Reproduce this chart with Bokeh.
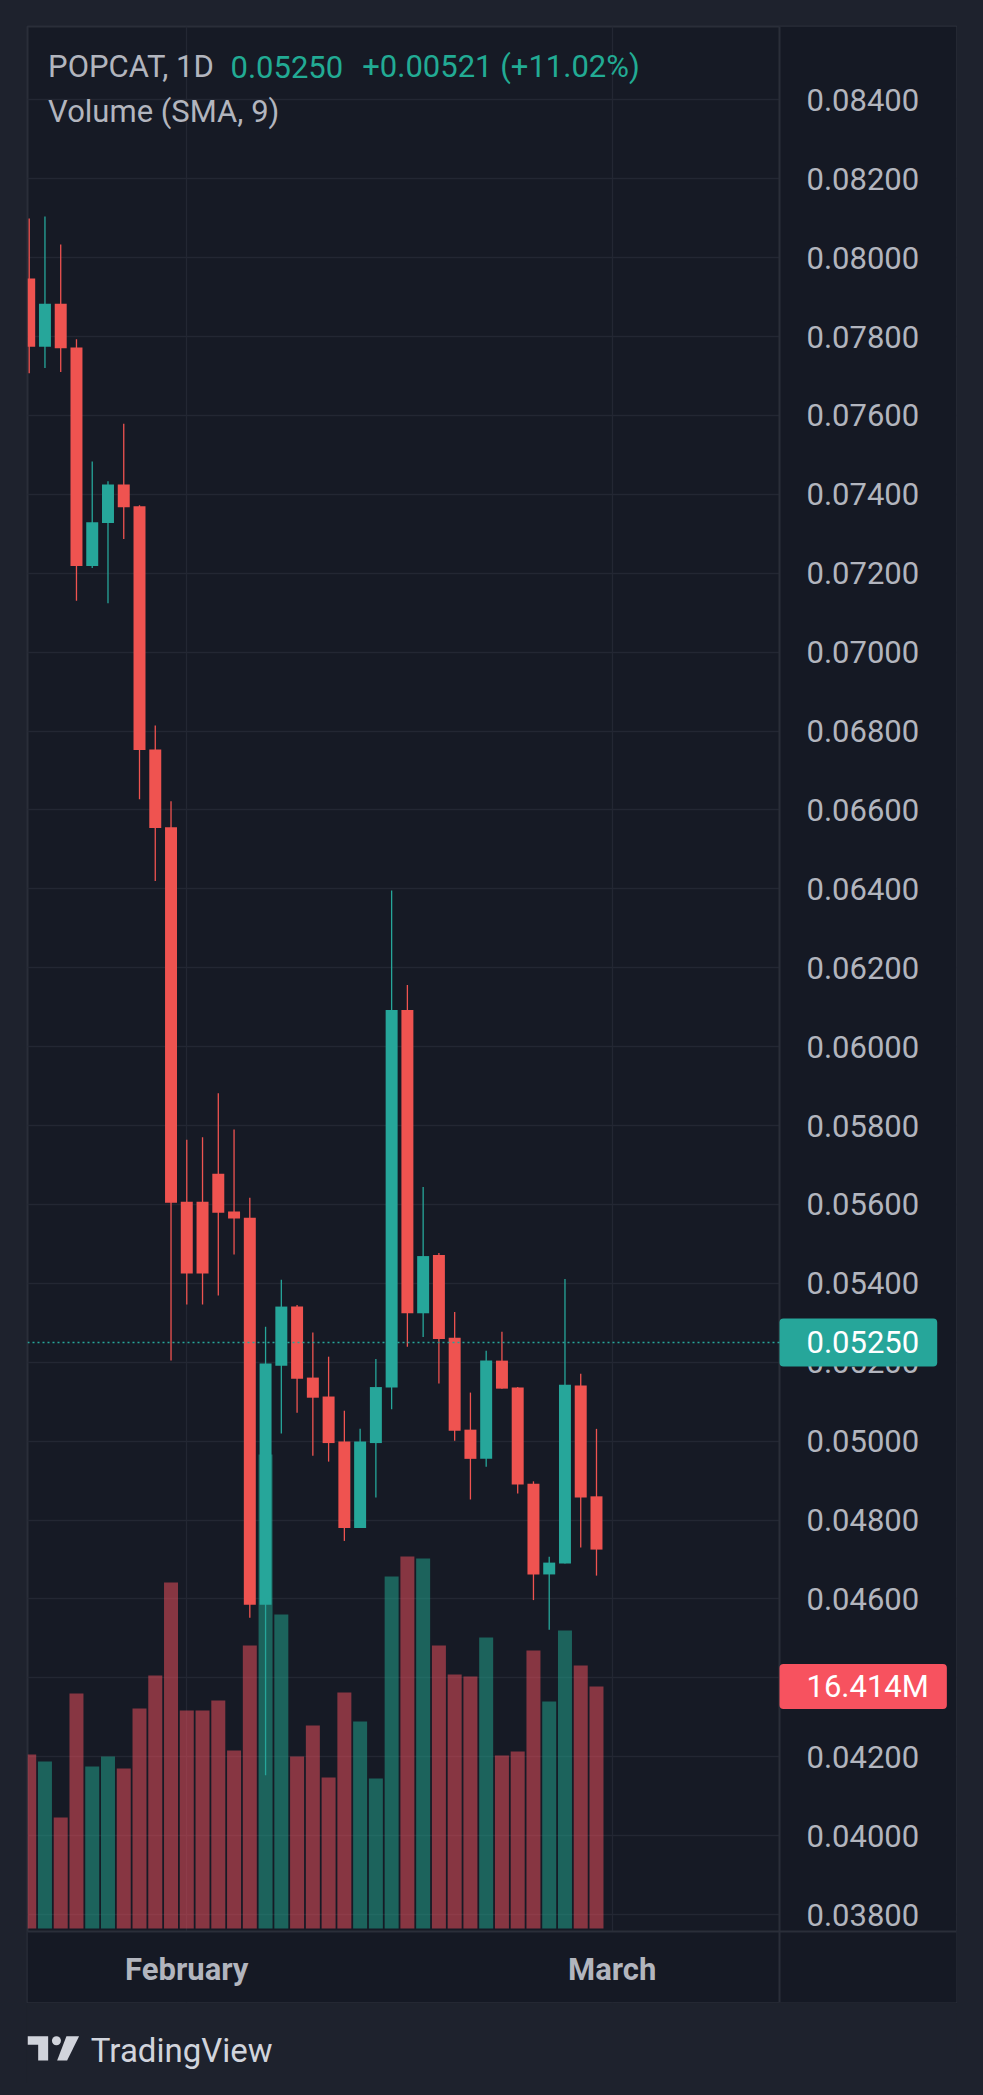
from bokeh.plotting import figure
from bokeh.models import (Range1d, FixedTicker, PrintfTickFormatter, Label, Span,
                          Arrow, BoxAnnotation, ColumnDataSource)
from bokeh.layouts import column
from bokeh.embed import file_html
from bokeh.resources import INLINE

# ---------------- data ----------------
DAYS = list(range(37))
OPEN = [0.07947, 0.07774, 0.07883, 0.07772, 0.07218, 0.07327, 0.07425, 0.07370, 0.06753, 0.06556,
        0.05607, 0.05607, 0.05678, 0.05582, 0.05566, 0.04585, 0.05191, 0.05341, 0.05161, 0.05113,
        0.04999, 0.04780, 0.04995, 0.05136, 0.06093, 0.05324, 0.05472, 0.05262, 0.05029, 0.04955,
        0.05204, 0.05136, 0.04892, 0.04662, 0.04690, 0.05141, 0.04860]
HIGH = [0.08099, 0.08104, 0.08033, 0.07793, 0.07483, 0.07433, 0.07579, 0.07372, 0.06814, 0.06622,
        0.05764, 0.05770, 0.05882, 0.05790, 0.05617, 0.05290, 0.05409, 0.05345, 0.05275, 0.05214,
        0.05077, 0.05031, 0.05208, 0.06396, 0.06156, 0.05644, 0.05477, 0.05327, 0.05123, 0.05229,
        0.05277, 0.05137, 0.04898, 0.04707, 0.05411, 0.05171, 0.05031]
LOW = [0.07707, 0.07720, 0.07710, 0.07130, 0.07213, 0.07124, 0.07287, 0.06627, 0.06420, 0.05204,
       0.05346, 0.05346, 0.05369, 0.05473, 0.04552, 0.04153, 0.05019, 0.05072, 0.04963, 0.04948,
       0.04747, 0.04780, 0.04857, 0.05081, 0.05239, 0.05264, 0.05146, 0.05001, 0.04852, 0.04935,
       0.05133, 0.04867, 0.04597, 0.04522, 0.04690, 0.04730, 0.04659]
CLOSE = [0.07774, 0.07883, 0.07770, 0.07218, 0.07329, 0.07425, 0.07367, 0.06752, 0.06554, 0.05604,
         0.05425, 0.05425, 0.05579, 0.05564, 0.04585, 0.05197, 0.05341, 0.05158, 0.05110, 0.04995,
         0.04780, 0.04999, 0.05137, 0.06093, 0.05324, 0.05469, 0.05259, 0.05026, 0.04955, 0.05204,
         0.05133, 0.04890, 0.04662, 0.04692, 0.05143, 0.04857, 0.04725]
VOLUME_M = [11.80, 11.33, 7.53, 15.94, 10.99, 11.67, 10.85, 14.92, 17.16, 23.47,
            14.79, 14.79, 15.47, 12.07, 19.20, 32.15, 21.30, 11.67, 13.77, 10.24,
            16.01, 14.04, 10.17, 23.88, 25.23, 25.10, 19.20, 17.23, 17.09, 19.74,
            11.73, 12.01, 18.86, 15.40, 20.21, 17.84, 16.414]
PRICE_TICKS = [0.038, 0.040, 0.042, 0.044, 0.046, 0.048, 0.050, 0.052, 0.054, 0.056, 0.058, 0.060,
               0.062, 0.064, 0.066, 0.068, 0.070, 0.072, 0.074, 0.076, 0.078, 0.080, 0.082, 0.084]
MONTH_TICKS = [10, 37]
MONTH_LABELS = ["February", "March"]
SYMBOL = "POPCAT, 1D"
LAST_PRICE = 0.05250
LAST_PRICE_TEXT = "0.05250"
CHANGE_TEXT = "+0.00521 (+11.02%)"
INDICATOR = "Volume (SMA, 9)"
LAST_VOLUME_TEXT = "16.414M"

# ---------------- styling / geometry ----------------
UP = "#26a69a"
DOWN = "#ef5350"
VOL_UP = "#22ab94"
VOL_DOWN = "#f7525f"
BG = "#161a25"
PANEL = "#151924"
OUTER = "#1e222d"
GRID = "#232733"
BORDER = "#2a2e39"
TEXT = "#b2b5be"
FONT = "Roboto"

BAR0_PX, BAR_STEP = 28.7, 15.758            # page px of first bar centre, px per bar
FRAME_L, FRAME_R, FRAME_T, FRAME_B = 27, 956, 26, 2002
SEP_X, SEP_Y = 779, 1931                     # price-axis / time-axis separators
PRICE_REF_PX, PX_PER_PRICE = 99.3, 39450.0   # page y of 0.084, px per price unit
VOL_BASE_PX, M_PER_PX = 1928.0, 0.06783


def x_of(px):
    return (px - BAR0_PX) / BAR_STEP


def price_of(py):
    return 0.084 - (py - PRICE_REF_PX) / PX_PER_PRICE


def vol_of(py):
    return (VOL_BASE_PX - py) * M_PER_PX


up = [c >= o for o, c in zip(OPEN, CLOSE)]
src = ColumnDataSource(dict(
    x=DAYS, open=OPEN, high=HIGH, low=LOW, close=CLOSE, vol=VOLUME_M,
    top=[max(o, c) for o, c in zip(OPEN, CLOSE)],
    bottom=[min(o, c) for o, c in zip(OPEN, CLOSE)],
    color=[UP if u else DOWN for u in up],
    vcolor=[VOL_UP if u else VOL_DOWN for u in up],
))

X_SEP = x_of(SEP_X)
Y_SEP = price_of(SEP_Y)
p = figure(width=931, height=1978,
           x_range=Range1d(x_of(FRAME_L), x_of(FRAME_R)),
           y_range=Range1d(price_of(FRAME_B), price_of(FRAME_T)),
           y_axis_location="right", toolbar_location=None, output_backend="svg",
           min_border_left=1, min_border_top=1, min_border_right=1, min_border_bottom=1,
           background_fill_color=BG, border_fill_color=OUTER)
p.extra_y_ranges = {"volume": Range1d(vol_of(FRAME_B), vol_of(FRAME_T))}
p.margin = (25, 0, 0, 26)
p.outline_line_color = BORDER
p.outline_line_width = 2

for g in (p.xgrid[0], p.ygrid[0]):
    g.grid_line_color = GRID
    g.grid_line_width = 1.3

# axis panels (cover the grid, sit under the tick labels)
p.add_layout(BoxAnnotation(left=X_SEP, fill_color=PANEL, fill_alpha=1, line_color=None,
                           level="underlay"))
p.add_layout(BoxAnnotation(top=Y_SEP, fill_color=PANEL, fill_alpha=1, line_color=None,
                           level="underlay"))

# volume
p.vbar(x="x", top="vol", bottom=0, width=0.888, source=src, y_range_name="volume",
       fill_color="vcolor", fill_alpha=0.5, line_color=None)
# candles
p.segment(x0="x", y0="low", x1="x", y1="high", source=src, line_color="color", line_width=1.3)
p.vbar(x="x", top="top", bottom="bottom", width=0.76, source=src,
       fill_color="color", line_color=None)

# axes (labels drawn inside the panels)
ya = p.yaxis[0]
ya.ticker = FixedTicker(ticks=PRICE_TICKS)
ya.formatter = PrintfTickFormatter(format="%.5f")
ya.axis_line_color = None
ya.major_tick_line_color = None
ya.minor_tick_line_color = None
ya.major_tick_out = 0
ya.major_tick_in = 0
ya.major_label_standoff = -150
ya.major_label_text_font = FONT
ya.major_label_text_font_size = "31px"
ya.major_label_text_color = TEXT

xa = p.xaxis[0]
xa.ticker = FixedTicker(ticks=MONTH_TICKS)
xa.major_label_overrides = {t: l for t, l in zip(MONTH_TICKS, MONTH_LABELS)}
xa.axis_line_color = None
xa.major_tick_line_color = None
xa.minor_tick_line_color = None
xa.major_tick_out = 0
xa.major_tick_in = 0
xa.major_label_standoff = -52
xa.major_label_text_font = FONT
xa.major_label_text_font_size = "31px"
xa.major_label_text_font_style = "bold"
xa.major_label_text_color = TEXT

# separators
p.add_layout(Span(location=X_SEP, dimension="height", line_color=BORDER, line_width=2))
p.add_layout(Span(location=Y_SEP, dimension="width", line_color=BORDER, line_width=2))

# last price line
p.add_layout(Arrow(end=None, x_start=x_of(FRAME_L), x_end=X_SEP, y_start=LAST_PRICE,
                   y_end=LAST_PRICE, line_color=UP, line_dash="2 3", line_width=1.3))

# legend texts
title_y = price_of(66.0)
p.add_layout(Label(x=x_of(47.6), y=title_y, text=SYMBOL, text_font=FONT,
                   text_font_size="31px", text_color=TEXT, text_baseline="alphabetic"))
p.add_layout(Label(x=x_of(230), y=title_y, text=LAST_PRICE_TEXT, text_font=FONT,
                   text_font_size="31px", text_color=VOL_UP, text_baseline="alphabetic"))
p.add_layout(Label(x=x_of(361.7), y=title_y, text=CHANGE_TEXT, text_font=FONT,
                   text_font_size="31px", text_color=VOL_UP, text_baseline="alphabetic"))
p.add_layout(Label(x=x_of(47.6), y=price_of(111.0), text=INDICATOR, text_font=FONT,
                   text_font_size="31px", text_color=TEXT, text_baseline="alphabetic"))

# axis badges  (padding: left, right, top, bottom)
p.add_layout(Label(x=X_SEP, y=LAST_PRICE, text=LAST_PRICE_TEXT, text_font=FONT,
                   text_font_size="31px", text_color="white", text_align="left",
                   text_baseline="middle", background_fill_color=UP,
                   padding=(27, 18, 13, 13), border_radius=4))
p.add_layout(Label(x=X_SEP, y=VOLUME_M[-1], y_range_name="volume", text=LAST_VOLUME_TEXT,
                   text_font=FONT, text_font_size="31px", text_color="white",
                   text_align="left", text_baseline="middle",
                   background_fill_color=VOL_DOWN, padding=(27, 18, 4, 4), border_radius=4))

# ---------------- TradingView mark ----------------
p2 = figure(width=931, height=80, x_range=Range1d(0, 931), y_range=Range1d(80, 0),
            toolbar_location=None, output_backend="svg", min_border=0,
            background_fill_color=OUTER, border_fill_color=OUTER)
p2.margin = (0, 0, 0, 26)
p2.outline_line_color = None
p2.axis.visible = False
p2.grid.visible = False
LOGO = "#d1d4dc"
p2.patches(xs=[[0, 20.7, 20.7, 10.7, 10.7, 0], [39, 51.7, 39.7, 29.7]],
           ys=[[32.7, 32.7, 57, 57, 41.3, 41.3], [32.7, 32.7, 57, 57]],
           fill_color=LOGO, line_color=None)
p2.scatter(x=[29], y=[37.2], size=9, fill_color=LOGO, line_color=None)
p2.text(x=[63.5], y=[46.5], text=["TradingView"], text_font_size="33px",
        text_color=LOGO, text_baseline="alphabetic", text_font={"value": FONT})

layout = column(p, p2)
html = file_html(layout, INLINE, title="POPCAT")
html = html.replace("</head>",
                    "<style>html,body{margin:0;padding:0;background-color:#1e222d;}</style></head>", 1)
open("out.html", "w").write(html)
